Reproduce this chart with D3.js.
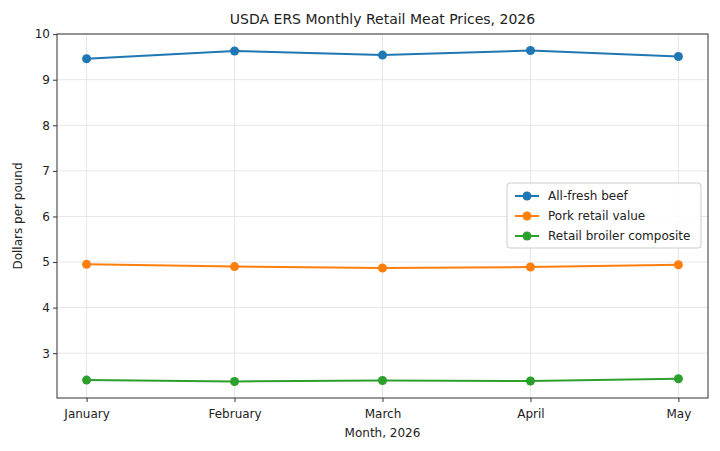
<!DOCTYPE html><html><head><script src="https://d3js.org/d3.v7.min.js"></script>
<style>body{margin:0;background:#fff}text{font-family:"DejaVu Sans",sans-serif;fill:#222}</style></head><body>
<svg id="c" width="720" height="451"></svg>
<script>
const months=["January","February","March","April","May"];
const beef=[9.46,9.63,9.54,9.64,9.51];
const pork=[4.95,4.90,4.87,4.89,4.94];
const broiler=[2.41,2.38,2.40,2.39,2.44];
const yTicks=[3,4,5,6,7,8,9,10];
const series=[{name:"All-fresh beef",v:beef,c:"#1f77b4"},{name:"Pork retail value",v:pork,c:"#ff7f0e"},{name:"Retail broiler composite",v:broiler,c:"#2ca02c"}];
const L=57,R=708,T=34,B=398;
const svg=d3.select("#c");
const x=d3.scaleLinear().domain([-0.2,4.2]).range([L,R]);
const y=d3.scaleLinear().domain([2.017,10.003]).range([B,T]);
const g=svg.append("g");
g.selectAll(".gy").data(yTicks).join("line").attr("x1",L).attr("x2",R).attr("y1",d=>y(d)).attr("y2",d=>y(d)).attr("stroke","#e6e6e6");
g.selectAll(".gx").data(months).join("line").attr("y1",T).attr("y2",B).attr("x1",(d,i)=>x(i)).attr("x2",(d,i)=>x(i)).attr("stroke","#e6e6e6");
const ax=svg.append("g").attr("transform",`translate(0,${B})`).call(d3.axisBottom(x).tickValues(d3.range(5)).tickFormat(i=>months[i]).tickSize(4).tickSizeOuter(0));
const ay=svg.append("g").attr("transform",`translate(${L},0)`).call(d3.axisLeft(y).tickValues(yTicks).tickSize(4).tickSizeOuter(0));
[ax,ay].forEach(a=>{a.select(".domain").remove();a.selectAll("text").attr("font-size",12).style("font-family","DejaVu Sans").attr("fill","#222");a.selectAll("line").attr("stroke","#333");});
ax.selectAll("text").attr("dy","1.1em");
svg.append("rect").attr("x",L).attr("y",T).attr("width",R-L).attr("height",B-T).attr("fill","none").attr("stroke","#333").attr("stroke-width",1);
series.forEach(s=>{
 svg.append("path").datum(s.v).attr("fill","none").attr("stroke",s.c).attr("stroke-width",2)
  .attr("d",d3.line().x((d,i)=>x(i)).y(d=>y(d)));
 svg.selectAll(null).data(s.v).join("circle").attr("cx",(d,i)=>x(i)).attr("cy",d=>y(d)).attr("r",4.5).attr("fill",s.c);
});
svg.append("text").attr("x",(L+R)/2).attr("y",24).attr("text-anchor","middle").attr("font-size",14).text("USDA ERS Monthly Retail Meat Prices, 2026");
svg.append("text").attr("x",(L+R)/2).attr("y",437).attr("text-anchor","middle").attr("font-size",12).text("Month, 2026");
svg.append("text").attr("transform",`translate(22,${(T+B)/2}) rotate(-90)`).attr("text-anchor","middle").attr("font-size",12).text("Dollars per pound");
const lg=svg.append("g").attr("transform","translate(507,183)");
lg.append("rect").attr("width",194).attr("height",65).attr("rx",3).attr("fill","#fff").attr("fill-opacity",0.85).attr("stroke","#ccc");
series.forEach((s,i)=>{
 const yy=13+i*20;
 lg.append("line").attr("x1",8).attr("x2",32).attr("y1",yy).attr("y2",yy).attr("stroke",s.c).attr("stroke-width",2);
 lg.append("circle").attr("cx",20).attr("cy",yy).attr("r",4.5).attr("fill",s.c);
 lg.append("text").attr("x",41).attr("y",yy+4).attr("font-size",12).text(s.name);
});
</script></body></html>
